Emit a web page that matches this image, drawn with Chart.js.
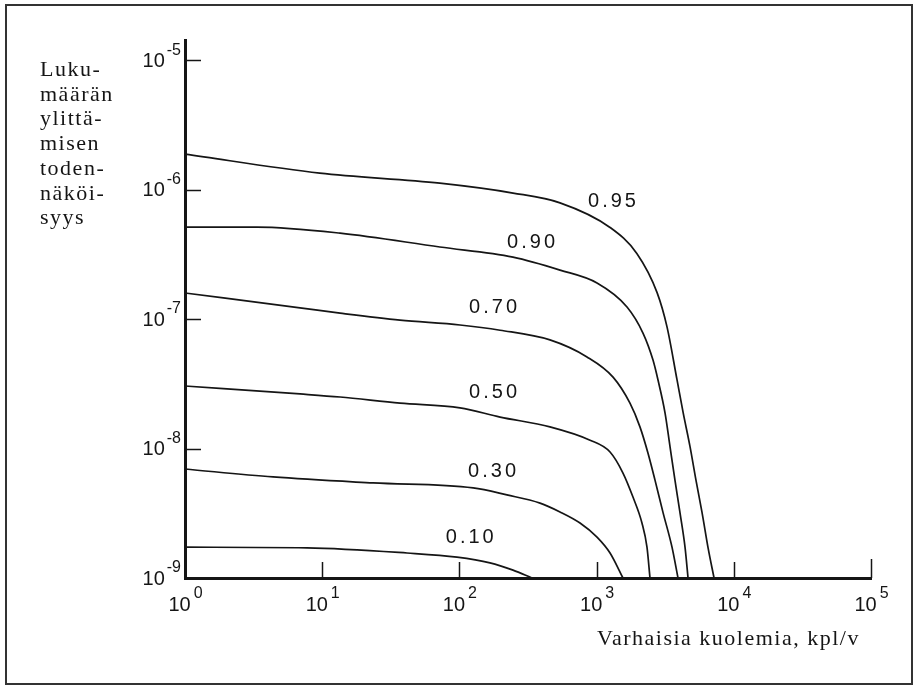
<!DOCTYPE html>
<html lang="fi">
<head>
<meta charset="UTF-8" />
<title>Lukumäärän ylittämisen todennäköisyys</title>
<script src="https://cdn.jsdelivr.net/npm/chart.js"></script>
<style>
  html, body { margin: 0; padding: 0; background: #fff; }
  #wrap { position: relative; width: 916px; height: 687px; }
</style>
</head>
<body>
<div id="wrap"><canvas id="riskChart" width="916" height="687"></canvas></div>

<script>
  // curves: x = early deaths per year, y = exceedance probability
  const curveLabels = ['0.95', '0.90', '0.70', '0.50', '0.30', '0.10'];

  const x095 = [1, 9.6, 72, 246, 541, 1253, 1970, 2760, 3260, 3855, 4270, 4800, 5300, 5870, 6500, 7180];
  const y095 = [1.88e-6, 1.34e-6, 1.12e-6, 9.4e-7, 7.9e-7, 5.1e-7, 3.2e-7, 1.6e-7, 8.7e-8, 3.4e-8, 1.9e-8, 1.03e-8, 5.7e-9, 3.2e-9, 1.7e-9, 1e-9];

  const x090 = [1, 3.35, 13.5, 72, 246, 541, 1007, 1666, 2178, 2577, 2803, 3155, 3430, 3725, 4055, 4410, 4640];
  const y090 = [5.13e-7, 5.13e-7, 4.61e-7, 3.6e-7, 3.01e-7, 2.39e-7, 1.9e-7, 1.24e-7, 7.8e-8, 4.82e-8, 3.38e-8, 1.88e-8, 1.03e-8, 5.71e-9, 3.18e-9, 1.73e-9, 1e-9];

  const x070 = [1, 6.89, 13.5, 36.9, 101, 198, 457, 851, 1318, 1751, 2070, 2370, 2665, 3050, 3545, 3920];
  const y070 = [1.59e-7, 1.22e-7, 1.11e-7, 9.8e-8, 9.0e-8, 8.2e-8, 6.9e-8, 5.1e-8, 3.56e-8, 2.24e-8, 1.47e-8, 9.2e-9, 5.7e-9, 3.2e-9, 1.73e-9, 1e-9];

  const x050 = [1, 6.89, 13.5, 36.9, 101, 198, 457, 896, 1253, 1557, 1841, 2141, 2329, 2450];
  const y050 = [3.04e-8, 2.64e-8, 2.5e-8, 2.24e-8, 2.06e-8, 1.75e-8, 1.47e-8, 1.16e-8, 9.4e-9, 6.47e-9, 4.22e-9, 2.66e-9, 1.73e-9, 1e-9];

  const x030 = [1, 4.38, 23.5, 126, 222, 387, 541, 757, 1007, 1253, 1557];
  const y030 = [6.95e-9, 6.03e-9, 5.42e-9, 4.96e-9, 4.38e-9, 3.79e-9, 3.24e-9, 2.66e-9, 2.07e-9, 1.56e-9, 1e-9];

  const x010 = [1, 7.75, 41.5, 96, 167, 246, 338];
  const y010 = [1.73e-9, 1.71e-9, 1.56e-9, 1.45e-9, 1.31e-9, 1.15e-9, 1e-9];

  // where the curve names sit (data coords)
  const labelX = [1295, 333, 176, 176, 173, 119];
  const labelY = [8.15e-7, 3.87e-7, 1.22e-7, 2.73e-8, 6.59e-9, 2.04e-9];

  // decade ticks (exponents)
  const xTickExp = [0, 1, 2, 3, 4, 5];
  const yTickExp = [-5, -6, -7, -8, -9];

  const yTitleLines = ['Luku-', 'määrän', 'ylittä-', 'misen', 'toden-', 'näköi-', 'syys'];
  const xTitle = 'Varhaisia kuolemia, kpl/v';

  const curveX = [x095, x090, x070, x050, x030, x010];
  const curveY = [y095, y090, y070, y050, y030, y010];

  const datasets = curveLabels.map((name, i) => ({
    label: name,
    data: curveX[i].map((v, j) => ({ x: v, y: curveY[i][j] })),
    borderColor: '#151515',
    borderWidth: 1.7,
    pointRadius: 0,
    cubicInterpolationMode: 'monotone',
    fill: false
  }));

  const sansFont = '"Liberation Sans", Arial, sans-serif';
  const serifFont = '"Liberation Serif", "Times New Roman", serif';

  const figureText = {
    id: 'figureText',
    afterDraw(chart) {
      const { ctx, chartArea, scales: { x, y } } = chart;
      ctx.save();
      ctx.fillStyle = '#151515';
      ctx.strokeStyle = '#151515';

      // short inward tick marks
      ctx.lineWidth = 1.5;
      yTickExp.forEach(e => {
        if (e === -9) return;
        const py = Math.round(y.getPixelForValue(Math.pow(10, e))) + 0.5;
        ctx.beginPath();
        ctx.moveTo(chartArea.left, py);
        ctx.lineTo(chartArea.left + 16, py);
        ctx.stroke();
      });
      xTickExp.forEach(e => {
        if (e === 0) return;
        const px = Math.round(x.getPixelForValue(Math.pow(10, e))) + 0.5;
        ctx.beginPath();
        ctx.moveTo(px, chartArea.bottom);
        ctx.lineTo(px, chartArea.bottom - (e === 5 ? 19 : 16));
        ctx.stroke();
      });

      // tick labels 10^n
      const base = '20px ' + sansFont;
      const sup = '16px ' + sansFont;
      ctx.textBaseline = 'middle';
      ctx.textAlign = 'left';
      yTickExp.forEach(e => {
        const py = y.getPixelForValue(Math.pow(10, e));
        const ex = String(e);
        ctx.font = sup;
        const ew = ctx.measureText(ex).width;
        const exX = chartArea.left - 4 - ew;
        ctx.fillText(ex, exX, py - 10);
        ctx.font = base;
        const bw = ctx.measureText('10').width;
        ctx.fillText('10', exX - 2 - bw, py + 1);
      });
      xTickExp.forEach(e => {
        const px = x.getPixelForValue(Math.pow(10, e));
        const ex = String(e);
        ctx.font = base;
        const bw = ctx.measureText('10').width;
        ctx.font = sup;
        const ew = ctx.measureText(ex).width;
        const start = px - (bw + 2 + ew) / 2;
        ctx.font = base;
        ctx.fillText('10', start, chartArea.bottom + 27);
        ctx.font = sup;
        ctx.fillText(ex, start + bw + 3, chartArea.bottom + 16);
      });

      // curve names
      ctx.font = '20px ' + sansFont;
      ctx.letterSpacing = '3px';
      ctx.textAlign = 'center';
      curveLabels.forEach((name, i) => {
        ctx.fillText(name, x.getPixelForValue(labelX[i]) + 1.5, y.getPixelForValue(labelY[i]));
      });

      // axis titles
      ctx.font = '22px ' + serifFont;
      ctx.letterSpacing = '1.5px';
      ctx.textAlign = 'left';
      ctx.textBaseline = 'alphabetic';
      yTitleLines.forEach((line, i) => {
        ctx.fillText(line, 40, 76 + i * 24.7);
      });
      ctx.fillText(xTitle, 597, 645);
      ctx.letterSpacing = '0px';

      // figure frame
      ctx.strokeStyle = '#333';
      ctx.lineWidth = 2;
      ctx.strokeRect(6, 5, 906, 679);
      ctx.restore();
    }
  };

  new Chart(document.getElementById('riskChart'), {
    type: 'line',
    data: { datasets: datasets },
    options: {
      responsive: false,
      animation: false,
      devicePixelRatio: 1,
      layout: { padding: { left: 185, right: 45, top: 40, bottom: 109 } },
      plugins: { legend: { display: false }, tooltip: { enabled: false } },
      scales: {
        x: {
          type: 'logarithmic',
          min: 1,
          max: 1e5,
          ticks: { display: false },
          grid: { display: false, drawTicks: false },
          border: { display: true, width: 3, color: '#151515' }
        },
        y: {
          type: 'logarithmic',
          min: 1e-9,
          max: 1.43e-5,
          ticks: { display: false },
          grid: { display: false, drawTicks: false },
          border: { display: true, width: 3, color: '#151515' }
        }
      }
    },
    plugins: [figureText]
  });
</script>
</body>
</html>
